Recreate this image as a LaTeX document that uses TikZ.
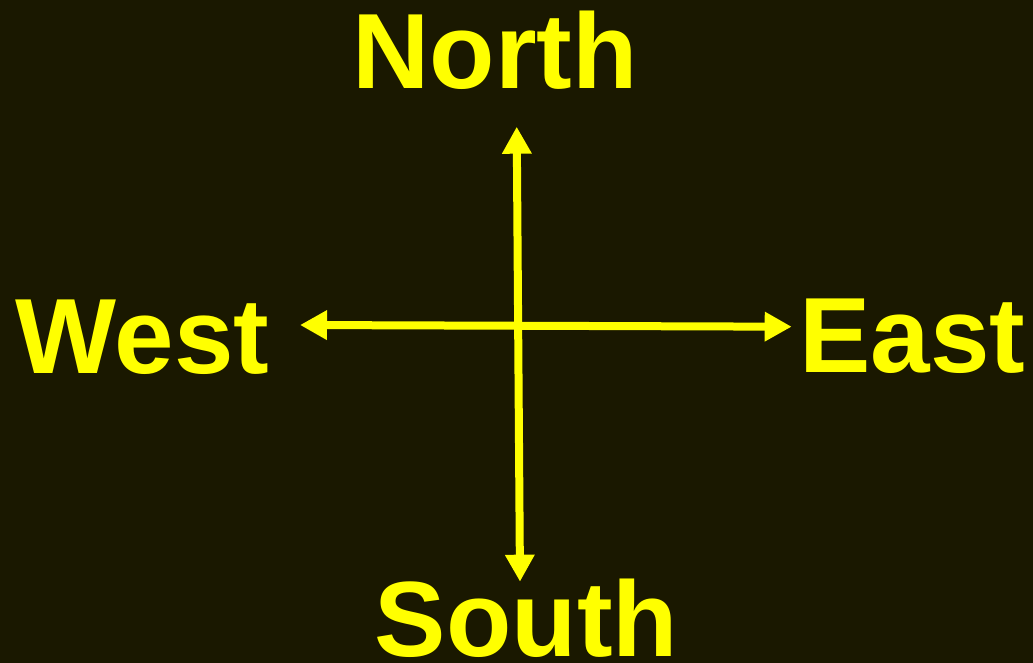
\documentclass[tikz,border=0pt]{standalone}
\usepackage{fontspec}
\setmainfont{Liberation Sans}
\usepackage{tikz}
\usetikzlibrary{arrows.meta}
\definecolor{cBg}{RGB}{26,24,0}
\definecolor{cYellow}{RGB}{255,255,0}
\tikzset{
	dirlabel/.style ={anchor=base, inner sep=0pt, text=cYellow, font=\fontsize{107}{120}\selectfont\bfseries},
	axisarrow/.style={{Triangle[length=27pt, width=28pt]}-{Triangle[length=27pt, width=28pt]}, draw=cYellow, line width=8pt},
}

\begin{document}
\begin{tikzpicture}[x=1pt, y=-1pt]
	\fill[cBg] (0,0) rectangle (1033,663);
	\useasboundingbox (0,0) rectangle (1033,663);
	\node[dirlabel] (north) at (495,89) {North};
	\node[dirlabel] (south) at (526.5,656) {South};
	\node[dirlabel] (west) at (142.5,373) {West};
	\node[dirlabel] (east) at (912.5,372) {East};
	\coordinate (ntip) at (516.7,126.7);
	\coordinate (stip) at (520,581.7);
	\coordinate (wtip) at (300,325);
	\coordinate (etip) at (791.7,326.7);
	\draw[axisarrow] (stip) -- (ntip);
	\draw[axisarrow] (wtip) -- (etip);
\end{tikzpicture}
\end{document}
